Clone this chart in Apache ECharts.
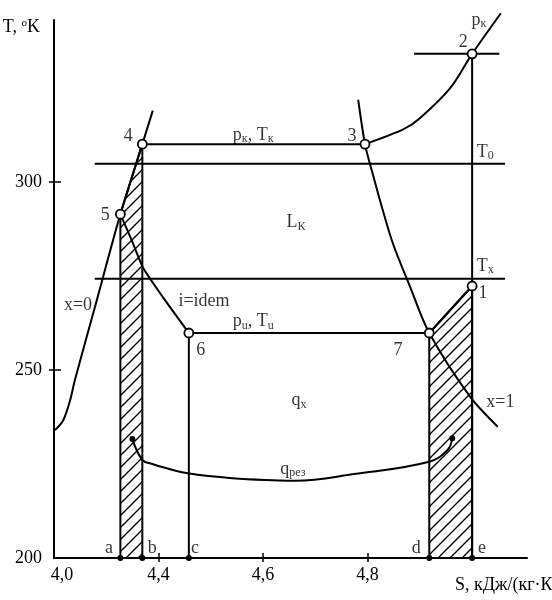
<!DOCTYPE html>
<html>
<head>
<meta charset="utf-8">
<script src="https://cdn.jsdelivr.net/npm/echarts@6/dist/echarts.min.js"></script>
<style>html,body{margin:0;padding:0;background:#fff}#c{width:552px;height:600px}</style>
</head>
<body>
<div id="c"></div>
<script>
// ---- data (S in kJ/(kg·K), T in K) ----
const xTickValues = [4.4, 4.6, 4.8];
const xLabelValues = [4.2, 4.4, 4.6, 4.8];
const yTickValues = [250, 300];
const yLabelValues = [200, 250, 300];

// cycle state points
const cyclePoints = [
  ['1', 5.000, 272.3], ['2', 5.000, 334.0], ['3', 4.795, 310.0], ['4', 4.369, 310.0],
  ['5', 4.327, 291.4], ['6', 4.458, 259.8], ['7', 4.918, 259.8]
];
const axisPoints = [4.327, 4.369, 4.458, 4.918, 5.000]; // a b c d e at T=200

const lineX0 = [[4.202,234.0],[4.218,236.7],[4.231,242.0],[4.240,247.3],[4.282,268.6],[4.327,291.4],[4.369,310.0],[4.389,318.9]];
const lineX1 = [[4.782,321.8],[4.795,310.0],[4.805,304.5],[4.846,284.6],[4.881,272.2],[4.918,259.8],[4.996,242.9],[5.049,234.9]];
const linePk = [[4.795,310.0],[4.869,314.0],[4.900,316.9],[4.958,324.9],[5.000,334.0],[5.055,344.8]];
const lineIdem = [[4.327,291.4],[4.350,284.0],[4.371,277.0],[4.410,269.0],[4.458,259.8]];
const lineQrez = [[4.350,231.6],[4.369,226.1],[4.388,225.0],[4.414,223.9],[4.456,222.5],[4.541,221.2],[4.630,220.6],[4.662,220.5],[4.774,222.3],[4.918,225.6],[4.953,228.7],[4.962,231.8]];
const qrezEnds = [[4.350,231.6],[4.962,231.8]];

const straightLines = [
  [[4.369,310.0],[4.795,310.0]],   // pk, Tk
  [[4.458,259.8],[4.918,259.8]],   // pu, Tu
  [[4.278,304.8],[5.063,304.8]],   // T0
  [[4.278,274.2],[5.063,274.2]],   // Tx
  [[4.889,334.0],[5.052,334.0]],   // top isotherm at 2
  [[5.000,334.0],[5.000,200]],     // 2 - e
  [[4.458,259.8],[4.458,200]],     // 6 - c
  [[4.918,259.8],[5.000,272.3]]    // 7 - 1
];

const hatchLeft = [[4.327,200],[4.327,291.4],[4.369,310.0],[4.369,200]];
const hatchRight = [[4.918,200],[4.918,259.8],[5.000,272.3],[5.000,200]];

// annotations: [text, S, T]
const annotations = [
  ['2', 4.983, 337.2], ['p{s|к}', 5.013, 343.0], ['4', 4.342, 312.2], ['3', 4.770, 312.2],
  ['p{s|к}, T{s|к}', 4.581, 312.4], ['T{s|0}', 5.025, 307.9], ['5', 4.298, 291.2],
  ['L{s|К}', 4.663, 289.2], ['T{s|x}', 5.025, 277.6], ['1', 5.021, 270.4],
  ['x=0', 4.246, 267.3], ['i=idem', 4.487, 268.3], ['p{s|u}, T{s|u}', 4.581, 262.9],
  ['6', 4.481, 255.3], ['7', 4.858, 255.3], ['q{s|x}', 4.669, 241.9], ['x=1', 5.054, 241.5],
  ['q{s|рез}', 4.657, 223.6],
  ['a', 4.305, 202.7], ['b', 4.388, 202.7], ['c', 4.470, 202.7], ['d', 4.893, 202.7], ['e', 5.019, 202.7]
];

// ---- chart ----
const FONT = 'Liberation Serif';
const hatch = document.createElement('canvas');
hatch.width = 12; hatch.height = 12;
(function(){
  const g = hatch.getContext('2d');
  g.fillStyle = '#fff'; g.fillRect(0,0,12,12);
  g.strokeStyle = '#000'; g.lineWidth = 1.4;
  g.beginPath();
  g.moveTo(-2,14); g.lineTo(14,-2);
  g.moveTo(-8,8); g.lineTo(8,-8);
  g.moveTo(4,20); g.lineTo(20,4);
  g.stroke();
})();

const chart = echarts.init(document.getElementById('c'), null, {renderer:'canvas'});
const lineStyle = {color:'#000', width:2};
const series = [];

function polySeries(poly){
  return {
    type:'custom', xAxisIndex:0, yAxisIndex:0, silent:true, clip:false, z:1,
    data:[0],
    renderItem:function(params, api){
      const pts = poly.map(p => api.coord(p));
      return {type:'polygon', shape:{points:pts},
        style:{fill:{image:hatch, repeat:'repeat'}, stroke:'#000', lineWidth:2}};
    }
  };
}
series.push(polySeries(hatchLeft));
series.push(polySeries(hatchRight));

function addLine(data, smooth){
  series.push({type:'line', data:data, smooth:smooth||false, symbol:'none', clip:false,
    lineStyle:lineStyle, silent:true, z:3});
}
straightLines.forEach(l => addLine(l, false));
addLine(lineX0, 0.3);
addLine(lineX1, 0.3);
addLine(linePk, 0.3);
addLine(lineIdem, 0.2);
addLine(lineQrez, 0.4);

series.push({type:'scatter', data:cyclePoints.map(p => [p[1], p[2]]), symbol:'circle', symbolSize:9,
  itemStyle:{color:'#fff', opacity:1, borderColor:'#000', borderWidth:1.8}, z:5, silent:true, clip:false});
series.push({type:'scatter', data:axisPoints.map(s => [s, 200]), symbol:'circle', symbolSize:6,
  itemStyle:{color:'#000', opacity:1}, z:5, silent:true, clip:false});
series.push({type:'scatter', data:qrezEnds, symbol:'circle', symbolSize:6,
  itemStyle:{color:'#000', opacity:1}, z:5, silent:true, clip:false});

series.push({type:'scatter', symbolSize:1, itemStyle:{color:'rgba(0,0,0,0)'}, z:6, silent:true, clip:false,
  data:annotations.map(a => ({name:a[0], value:[a[1], a[2]]})),
  label:{show:true, position:'inside', formatter:p => p.name, color:'#000',
    fontFamily:FONT, fontSize:18, lineHeight:20,
    rich:{s:{fontFamily:FONT, fontSize:12, lineHeight:10, verticalAlign:'bottom', color:'#000'}}}
});

const option = {
  animation:false,
  backgroundColor:'#fff',
  grid:{left:54, right:25, top:20, bottom:42, containLabel:false, outerBoundsMode:'none'},
  xAxis:[{
    type:'value', min:4.2, max:5.105,
    name:'S, кДж/(кг·К)', nameLocation:'end', nameGap:-72,
    nameTextStyle:{fontFamily:FONT, fontSize:18, color:'#000', align:'left', verticalAlign:'top', padding:[18,0,0,0]},
    axisLine:{show:true, onZero:false, lineStyle:{color:'#000', width:2}},
    axisTick:{show:true, customValues:xTickValues, length:4, lineStyle:{color:'#000', width:1.5}},
    axisLabel:{customValues:xLabelValues, margin:8, fontFamily:FONT, fontSize:18, color:'#000',
      formatter:v => Math.abs(v-4.2)<1e-6 ? '{o|4,0}' : v.toFixed(1).replace('.', ','),
      rich:{o:{fontFamily:FONT, fontSize:18, color:'#000', padding:[0,0,0,16]}}},
    splitLine:{show:false}
  },{
    type:'value', min:4.2, max:5.105, position:'bottom',
    axisLine:{show:false}, axisLabel:{show:false}, splitLine:{show:false},
    axisTick:{show:true, inside:true, customValues:xTickValues, length:5, lineStyle:{color:'#000', width:1.5}}
  }],
  yAxis:[{
    type:'value', min:200, max:343,
    name:'T, {u|o}K', nameLocation:'end', nameGap:-7,
    nameTextStyle:{fontFamily:FONT, fontSize:18, color:'#000', align:'right', verticalAlign:'middle', padding:[0,14,0,0],
      rich:{u:{fontFamily:FONT, fontSize:11, lineHeight:10, verticalAlign:'top', color:'#000'}}},
    axisLine:{show:true, onZero:false, lineStyle:{color:'#000', width:2}},
    axisTick:{show:true, customValues:yTickValues, length:5, lineStyle:{color:'#000', width:1.5}},
    axisLabel:{customValues:yLabelValues, margin:12, fontFamily:FONT, fontSize:18, color:'#000'},
    splitLine:{show:false}
  },{
    type:'value', min:200, max:343, position:'left',
    axisLine:{show:false}, axisLabel:{show:false}, splitLine:{show:false},
    axisTick:{show:true, inside:true, customValues:yTickValues, length:7, lineStyle:{color:'#000', width:1.5}}
  }],
  series:series
};
chart.setOption(option);
</script>
</body>
</html>
